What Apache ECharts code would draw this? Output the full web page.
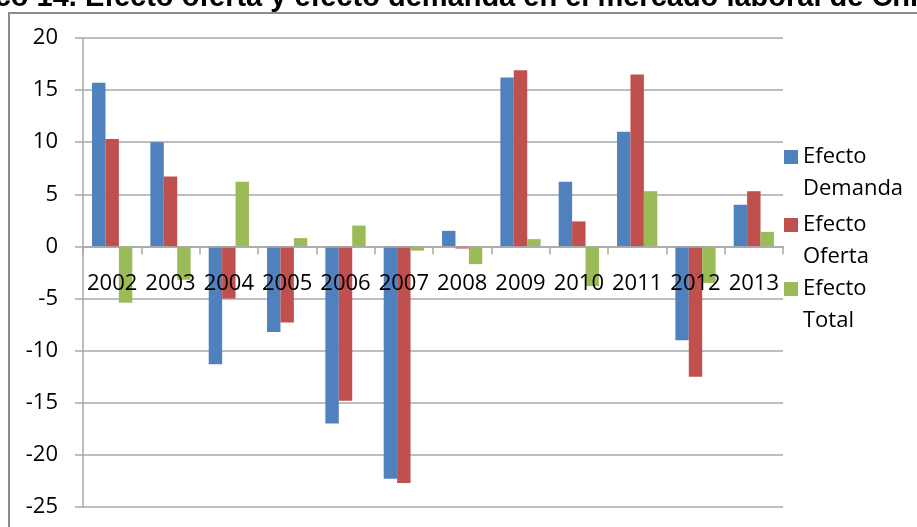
<!DOCTYPE html>
<html>
<head>
<meta charset="utf-8">
<script src="https://cdn.jsdelivr.net/npm/echarts@6/dist/echarts.min.js"></script>
<style>
html,body{margin:0;padding:0;background:#fff;}
#chart{width:917px;height:527px;}
</style>
</head>
<body>
<div id="chart"></div>
<script>
const titleText = 'Gráfico 14. Efecto oferta y efecto demanda en el mercado laboral de Chile';
const categories = ['2002','2003','2004','2005','2006','2007','2008','2009','2010','2011','2012','2013'];
const seriesNames = ['Efecto Demanda','Efecto Oferta','Efecto Total'];
const efectoDemanda = [15.7, 10.0, -11.3, -8.2, -17.0, -22.3, 1.5, 16.2, 6.2, 11.0, -9.0, 4.0];
const efectoOferta  = [10.3, 6.7, -5.0, -7.3, -14.8, -22.7, -0.2, 16.9, 2.4, 16.5, -12.5, 5.3];
const efectoTotal   = [-5.4, -3.2, 6.2, 0.8, 2.0, -0.4, -1.7, 0.7, -3.8, 5.3, -3.5, 1.4];
const yMin = -25, yMax = 20, yStep = 5;

const colors = ['#4F81BD', '#C0504D', '#9BBB59'];
const dataSets = [efectoDemanda, efectoOferta, efectoTotal];
const FONT = 'Open Sans';
const gridColor = '#a8a8a8';

const gridTop = 38, gridBottomPx = 507;
// distance from grid bottom up to the zero line
const zeroOffset = (gridBottomPx - gridTop) * (0 - yMin) / (yMax - yMin);

const chart = echarts.init(document.getElementById('chart'), null, {renderer: 'canvas'});

const legendTops = [109, 177, 241];
const legends = seriesNames.map((n, i) => ({
  data: [n],
  orient: 'vertical',
  left: 784,
  top: legendTops[i],
  padding: 0,
  itemWidth: 14,
  itemHeight: 14,
  icon: 'rect',
  selectedMode: false,
  formatter: name => ' \n' + name.replace(' ', '\n'),
  textStyle: {
    fontFamily: FONT,
    fontSize: 22,
    lineHeight: 32,
    color: '#000'
  }
}));

chart.setOption({
  animation: false,
  backgroundColor: '#fff',
  color: colors,
  graphic: [
    {
      type: 'rect',
      shape: {x: 9, y: 13, width: 1000, height: 1000},
      style: {fill: 'none', stroke: '#8c8c8c', lineWidth: 2},
      z: -1
    },
    {
      type: 'text',
      x: -73,
      y: -2,
      style: {
        text: titleText,
        font: 'bold 29px "Liberation Sans", Arial, sans-serif',
        fill: '#000',
        textAlign: 'left',
        textVerticalAlign: 'middle'
      },
      z: 10
    }
  ],
  legend: legends,
  grid: {left: 83, right: 134, top: gridTop, bottom: 527 - gridBottomPx, containLabel: false, outerBoundsMode: 'none'},
  xAxis: {
    type: 'category',
    data: categories,
    position: 'bottom',
    offset: -zeroOffset,
    z: 10,
    axisLine: {onZero: false, lineStyle: {color: gridColor, width: 1.5}},
    axisTick: {show: true, length: 8, lineStyle: {color: gridColor, width: 1.5}},
    axisLabel: {fontFamily: FONT, fontSize: 22, color: '#000', margin: 26, interval: 0},
    splitLine: {show: false}
  },
  yAxis: {
    type: 'value',
    min: yMin,
    max: yMax,
    interval: yStep,
    axisLine: {show: true, lineStyle: {color: gridColor, width: 1.5}},
    axisTick: {show: true, length: 8, lineStyle: {color: gridColor, width: 1.5}},
    axisLabel: {fontFamily: FONT, fontSize: 22, color: '#000', margin: 25},
    splitLine: {show: true, lineStyle: {color: gridColor, width: 1.5}}
  },
  series: seriesNames.map((n, i) => ({
    name: n,
    type: 'bar',
    data: dataSets[i],
    barGap: '0%',
    barCategoryGap: '31%',
    itemStyle: {color: colors[i]}
  }))
});
</script>
</body>
</html>
